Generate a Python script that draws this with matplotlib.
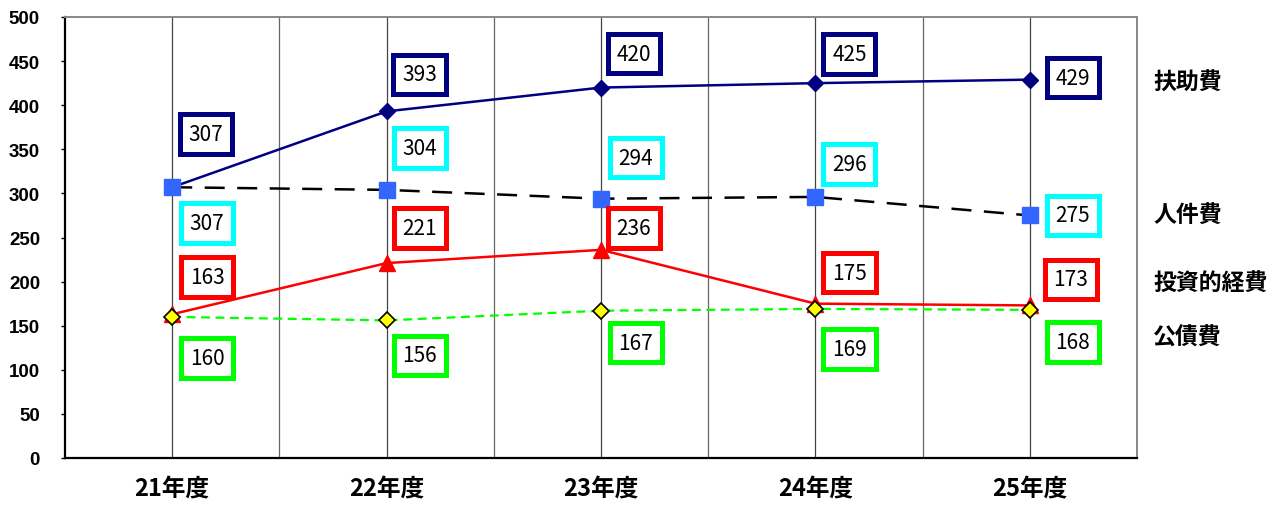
import matplotlib
matplotlib.use("Agg")
import matplotlib.pyplot as plt

plt.rcParams['font.family'] = ['Noto Sans CJK JP', 'DejaVu Sans']

years = ["21年度", "22年度", "23年度", "24年度", "25年度"]
fujo = [307, 393, 420, 425, 429]          # 扶助費
jinken = [307, 304, 294, 296, 275]        # 人件費
toshi = [163, 221, 236, 175, 173]         # 投資的経費
kousai = [160, 156, 167, 169, 168]        # 公債費
series_names = ["扶助費", "人件費", "投資的経費", "公債費"]
y_ticks = list(range(0, 501, 50))

W, H = 1286, 506
fig = plt.figure(figsize=(W / 100, H / 100), dpi=100)
ax = fig.add_axes([65 / W, 1 - 459 / H, (1137 - 65) / W, (459 - 18) / H])

x = list(range(len(years)))
ax.set_xlim(-0.5, len(years) - 0.5)
ax.set_ylim(0, 500)
ax.set_yticks(y_ticks, labels=[str(t) for t in y_ticks], fontweight='bold',
              fontfamily=['Liberation Sans', 'DejaVu Sans'], fontsize=13.5)
ax.set_xticks(x, labels=years, fontsize=17, fontweight='bold')
ax.tick_params(axis='y', length=3, width=1, pad=15)
ax.tick_params(axis='x', length=0, pad=13)

# vertical grid: category centres and band boundaries
for i in x:
    ax.axvline(i, color='#444444', lw=0.9, zorder=1)
for b in [i + 0.5 for i in x[:-1]]:
    ax.axvline(b, color='#666666', lw=0.9, zorder=1)

for side in ['left', 'bottom']:
    ax.spines[side].set_color('black')
    ax.spines[side].set_linewidth(1.6)
for side in ['top', 'right']:
    ax.spines[side].set_color('#888888')
    ax.spines[side].set_linewidth(1.4)

ax.plot(x, fujo, color='#000080', lw=1.8, marker='D', markersize=8,
        markerfacecolor='#000080', markeredgecolor='#000080', zorder=4)
ax.plot(x, jinken, color='black', lw=1.8, dashes=(8, 5), marker='s',
        markersize=11, markerfacecolor='#3366FF', markeredgecolor='#3366FF',
        zorder=4)
ax.plot(x, toshi, color='#FF0000', lw=1.8, marker='^', markersize=11,
        markerfacecolor='#FF0000', markeredgecolor='#FF0000', zorder=4)
ax.plot(x, kousai, color='#00FF00', lw=1.6, dashes=(4, 2.5), marker='D',
        markersize=8, markerfacecolor='#FFFF00', markeredgecolor='black',
        markeredgewidth=1.2, zorder=5)

# value boxes: offsets in pixels from each point
box_specs = [
    (fujo, '#000080', [(34, 53), (33, 37), (33, 34), (34, 29), (43, 2)]),
    (jinken, '#00FFFF', [(35, -36), (33, 42), (35, 41), (34, 33), (43, 0)]),
    (toshi, '#FF0000', [(35, 37), (33, 35), (33, 22), (34, 31), (41, 26)]),
    (kousai, '#00FF00', [(35, -41), (33, -35), (35, -32), (34, -40), (43, -32)]),
]
for vals, col, offs in box_specs:
    for xi, v, (dx, dy) in zip(x, vals, offs):
        ax.annotate(str(v), (xi, v), xytext=(dx, dy), textcoords='offset pixels',
                    ha='center', va='center', fontsize=15, color='black',
                    bbox=dict(boxstyle='square,pad=0.42', fc='white', ec=col,
                              lw=3.6),
                    zorder=6, annotation_clip=False)

# series names on the right
name_y = [83, 216, 284, 338]
for name, py in zip(series_names, name_y):
    fig.text(1153 / W, 1 - py / H, name, ha='left', va='center',
             fontsize=16.5, fontweight='bold')

fig.savefig("out.png", dpi=100)
